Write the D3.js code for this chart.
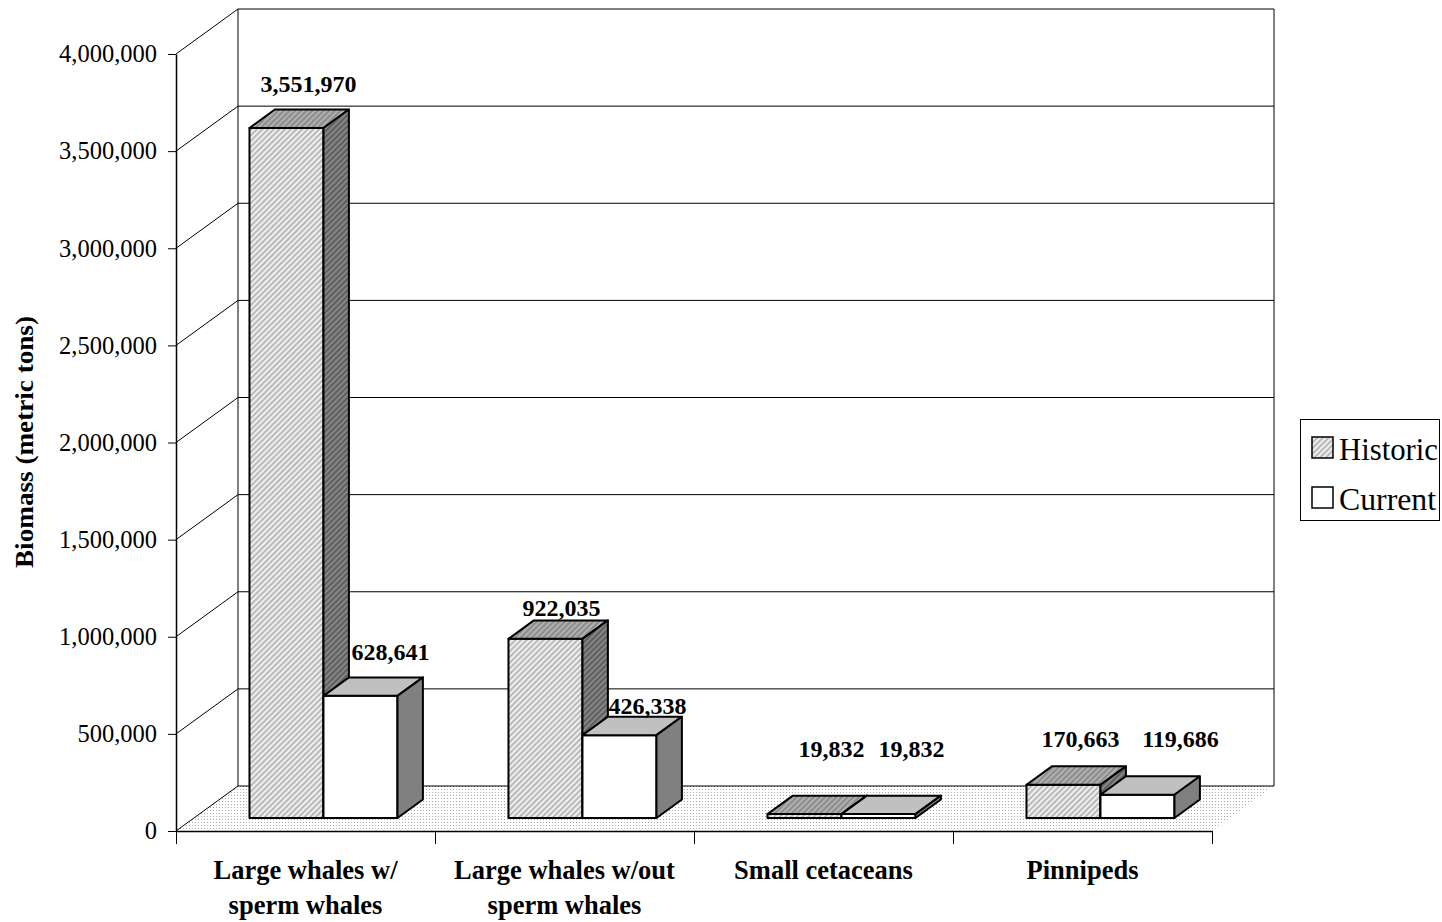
<!DOCTYPE html>
<html>
<head>
<meta charset="utf-8">
<script src="https://cdn.jsdelivr.net/npm/d3@7"></script>
<style>
  body { margin: 0; background: #fff; }
  svg { display: block; }
  text { font-family: "Liberation Serif", "Times New Roman", serif; fill: #000; }
</style>
</head>
<body>
<script>
// ---- data ----
const categories = [
  ["Large whales w/", "sperm whales"],
  ["Large whales w/out", "sperm whales"],
  ["Small cetaceans"],
  ["Pinnipeds"]
];
const seriesNames = ["Historic", "Current"];
const historic = [3551970, 922035, 19832, 170663];
const current = [628641, 426338, 19832, 119686];
const yTickValues = [0, 500000, 1000000, 1500000, 2000000, 2500000, 3000000, 3500000, 4000000];
const yTitle = "Biomass (metric tons)";

// ---- layout ----
const W = 1442, H = 922;
const plot = { left: 176, right: 1212, top: 54, bottom: 831 };
const depth = { dx: 62, dy: 45 };       // oblique offset of the back wall
const barDepth = [0.29, 0.70];          // front / back of the columns, as depth fractions
// hand-placed value labels: [dx, dy] from the front-top centre of each column
const labelNudge = [
  [[22, -36], [30, -36]],
  [[16, -23], [28, -21]],
  [[27, -57], [33, -57]],
  [[17, -38], [43, -48]]
];

const svg = d3.select("body").append("svg").attr("width", W).attr("height", H);
const defs = svg.append("defs");

function stripes(id, bg, fg) {
  const p = defs.append("pattern").attr("id", id).attr("patternUnits", "userSpaceOnUse")
    .attr("width", 4).attr("height", 4).attr("patternTransform", "rotate(45)");
  p.append("rect").attr("width", 4).attr("height", 4).attr("fill", bg);
  p.append("rect").attr("width", 2).attr("height", 4).attr("fill", fg);
}
stripes("hFront", "#efefef", "#bababa");
stripes("hTop", "#8c8c8c", "#b0b0b0");
stripes("hSide", "#5f5f5f", "#868686");

const dots = defs.append("pattern").attr("id", "floorDots").attr("patternUnits", "userSpaceOnUse")
  .attr("width", 3).attr("height", 3);
dots.append("rect").attr("width", 3).attr("height", 3).attr("fill", "#fff");
dots.append("rect").attr("width", 1).attr("height", 1).attr("fill", "#a8a8a8");

const faces = [
  { front: "url(#hFront)", top: "url(#hTop)", side: "url(#hSide)" },
  { front: "#ffffff", top: "#c0c0c0", side: "#808080" }
];

// ---- scales ----
const y = d3.scaleLinear().domain([0, 4000000]).range([plot.bottom, plot.top]);
const x0 = d3.scaleBand().domain(d3.range(categories.length)).range([plot.left, plot.right]);
const x1 = d3.scaleBand().domain(seriesNames).range([0, x0.bandwidth()]).paddingInner(0).paddingOuter(0.75);
const xEdges = d3.scaleLinear().domain([0, categories.length]).range([plot.left, plot.right]);

const P = (x, yy, f) => [x + f * depth.dx, yy - f * depth.dy];
const line = d3.line();

// ---- floor ----
svg.append("path")
  .attr("d", line([P(plot.left, plot.bottom, 0), P(plot.right, plot.bottom, 0),
                   P(plot.right, plot.bottom, 1), P(plot.left, plot.bottom, 1)]) + "Z")
  .attr("fill", "url(#floorDots)");

// ---- walls and gridlines ----
const walls = svg.append("g").attr("stroke", "#000").attr("stroke-width", 1).attr("fill", "none");
yTickValues.forEach(v => {
  const a = P(plot.left, y(v), 0), b = P(plot.left, y(v), 1), c = P(plot.right, y(v), 1);
  walls.append("path").attr("d", line([a, b, c]));
});
walls.append("path").attr("d", line([P(plot.left, y(0), 1), P(plot.left, y(4000000), 1)]));
walls.append("path").attr("d", line([P(plot.right, y(0), 1), P(plot.right, y(4000000), 1)]));

// ---- columns ----
const rows = categories.map((c, i) => [historic[i], current[i]]);
const bars = svg.append("g").attr("stroke", "#000").attr("stroke-width", 2).attr("stroke-linejoin", "round");
rows.forEach((vals, i) => {
  vals.forEach((v, s) => {
    const xa = x0(i) + x1(seriesNames[s]);
    const xb = xa + x1.bandwidth();
    const yt = y(v), yb = y(0);
    const [f0, f1] = barDepth;
    bars.append("path").attr("fill", faces[s].front)
      .attr("d", line([P(xa, yt, f0), P(xb, yt, f0), P(xb, yb, f0), P(xa, yb, f0)]) + "Z");
    bars.append("path").attr("fill", faces[s].top)
      .attr("d", line([P(xa, yt, f0), P(xb, yt, f0), P(xb, yt, f1), P(xa, yt, f1)]) + "Z");
    bars.append("path").attr("fill", faces[s].side)
      .attr("d", line([P(xb, yt, f0), P(xb, yt, f1), P(xb, yb, f1), P(xb, yb, f0)]) + "Z");
  });
});

// ---- value labels ----
rows.forEach((vals, i) => {
  vals.forEach((v, s) => {
    const cx = x0(i) + x1(seriesNames[s]) + x1.bandwidth() / 2;
    const [px, py] = P(cx, y(v), barDepth[0]);
    const [nx, ny] = labelNudge[i][s];
    svg.append("text").attr("x", px + nx).attr("y", py + ny)
      .attr("text-anchor", "middle").attr("font-size", 24).attr("font-weight", "bold")
      .text(d3.format(",")(v));
  });
});

// ---- axes ----
const yAxis = svg.append("g").attr("transform", `translate(${plot.left},0)`)
  .call(d3.axisLeft(y).tickValues(yTickValues).tickFormat(d3.format(",")).tickSize(8).tickSizeOuter(0).tickPadding(11));
yAxis.select(".domain").attr("stroke", "#000").attr("stroke-width", 1.5);
yAxis.selectAll(".tick line").attr("stroke", "#000");
yAxis.selectAll(".tick text").attr("font-size", 24.5).attr("font-family", "Liberation Serif, serif").attr("fill", "#000");

const xAxis = svg.append("g").attr("transform", `translate(0,${plot.bottom})`)
  .call(d3.axisBottom(xEdges).tickValues(d3.range(categories.length + 1)).tickFormat("").tickSize(13).tickSizeOuter(0));
xAxis.select(".domain").attr("stroke", "#000").attr("stroke-width", 1.5);
xAxis.selectAll(".tick line").attr("stroke", "#000");

categories.forEach((lines, i) => {
  const t = svg.append("text").attr("text-anchor", "middle").attr("font-size", 26.5).attr("font-weight", "bold");
  lines.forEach((l, k) => {
    t.append("tspan").attr("x", x0(i) + x0.bandwidth() / 2).attr("y", 879 + k * 35).text(l);
  });
});

svg.append("text")
  .attr("transform", "translate(33,442) rotate(-90)")
  .attr("text-anchor", "middle").attr("font-size", 26).attr("font-weight", "bold")
  .attr("textLength", 252).attr("lengthAdjust", "spacingAndGlyphs")
  .text(yTitle);

// ---- legend ----
const lg = svg.append("g");
lg.append("rect").attr("x", 1300.5).attr("y", 419.5).attr("width", 139).attr("height", 101)
  .attr("fill", "#fff").attr("stroke", "#000").attr("stroke-width", 1);
seriesNames.forEach((n, s) => {
  const yy = 437 + s * 50;
  lg.append("rect").attr("x", 1312).attr("y", yy).attr("width", 21).attr("height", 21)
    .attr("fill", faces[s].front).attr("stroke", "#000").attr("stroke-width", 1.5);
  lg.append("text").attr("x", 1339).attr("y", yy + 23).attr("font-size", 31)
    .attr("textLength", s === 0 ? 99 : 97).attr("lengthAdjust", "spacingAndGlyphs").text(n);
});
</script>
</body>
</html>
